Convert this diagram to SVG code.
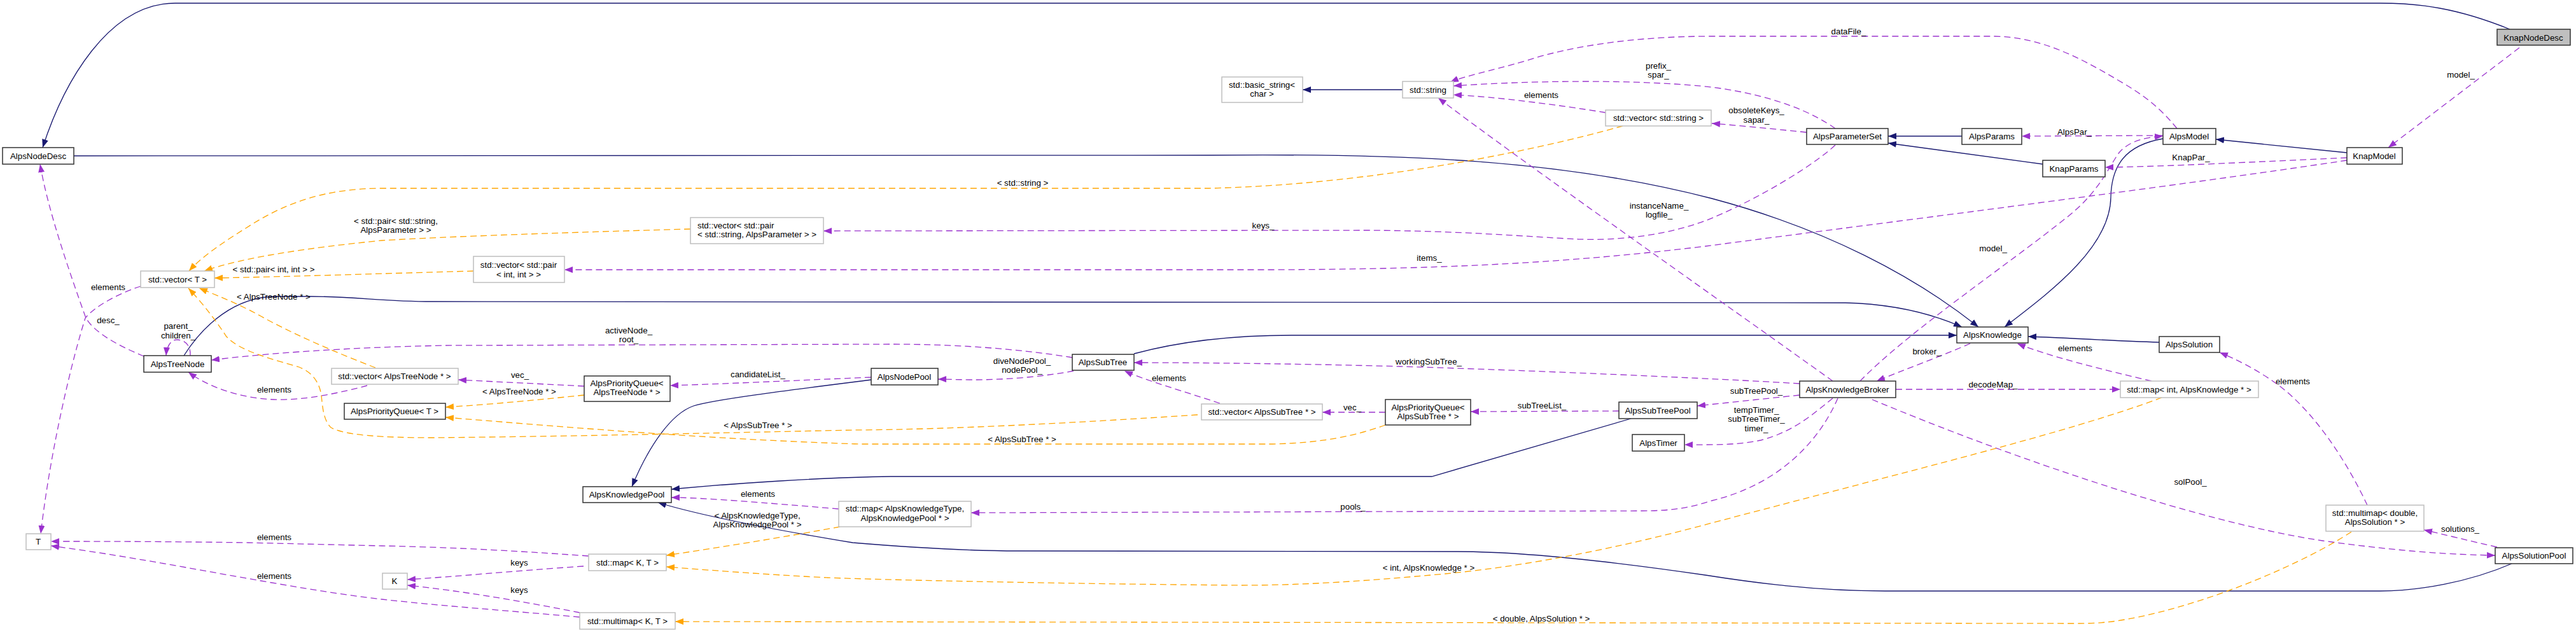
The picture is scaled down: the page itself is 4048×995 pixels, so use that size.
<svg xmlns="http://www.w3.org/2000/svg" width="4048" height="995" viewBox="0 0 4048 995">
<style>
text{font-family:"Liberation Sans",Arial,Helvetica,sans-serif;font-size:13.33px;fill:#000}
.c{text-anchor:middle}
.nb{fill:#fff;stroke:#333;stroke-width:1.5}
.ng{fill:#fff;stroke:#bfbfbf;stroke-width:1.5}
.nf{fill:#bfbfbf;stroke:#333;stroke-width:1.5}
.nv{fill:none;stroke:#191970;stroke-width:1.3}
.pu{fill:none;stroke:#9a32cd;stroke-width:1.3;stroke-dasharray:10,6}
.or{fill:none;stroke:#ffa500;stroke-width:1.3;stroke-dasharray:10,6}
</style>
<defs>
<marker id="aN" markerWidth="13" markerHeight="10" refX="13" refY="5" orient="auto" markerUnits="userSpaceOnUse"><path d="M0,0 L13,5 L0,10 z" fill="#191970"/></marker>
<marker id="aP" markerWidth="13" markerHeight="10" refX="13" refY="5" orient="auto" markerUnits="userSpaceOnUse"><path d="M0,0 L13,5 L0,10 z" fill="#9a32cd"/></marker>
<marker id="aO" markerWidth="13" markerHeight="10" refX="13" refY="5" orient="auto" markerUnits="userSpaceOnUse"><path d="M0,0 L13,5 L0,10 z" fill="#ffa500"/></marker>
</defs>
<rect width="4048" height="995" fill="#fff"/>
<g id="connectors">
<!-- inheritance -->
<path class="nv" marker-end="url(#aN)" d="M3944,46 C3860,12 3800,5 3740,5 L275,5 C170,5 100,130 67,232"/>
<path class="nv" marker-end="url(#aN)" d="M116,245 L1900,244 C2200,241 2450,250 2690,312 C2870,360 3010,435 3109,514"/>
<path class="nv" marker-end="url(#aN)" d="M289,559 C320,510 370,466 434,466 L490,466 C560,466 600,474 680,474 L2900,476 C2980,478 3040,495 3083,514"/>
<path class="nv" marker-end="url(#aN)" d="M1782,556 C1860,535 1940,527 2030,527 L3075,527"/>
<path class="nv" marker-end="url(#aN)" d="M3399,218 C3340,228 3318,260 3317,310 C3316,390 3220,460 3150,514"/>
<path class="nv" marker-end="url(#aN)" d="M3393,538 C3300,535 3230,530 3187,529"/>
<path class="nv" marker-end="url(#aN)" d="M3083,214 L2967,214"/>
<path class="nv" marker-end="url(#aN)" d="M3210,258 L2967,225"/>
<path class="nv" marker-end="url(#aN)" d="M3688,240 L3482,219"/>
<path class="nv" marker-end="url(#aN)" d="M2204,141 L2047,141"/>
<path class="nv" marker-end="url(#aN)" d="M1369,597 C1250,612 1120,628 1090,638 C1055,650 1020,700 993,765"/>
<path class="nv" marker-end="url(#aN)" d="M2563,658 L2250,749 L1400,749 C1300,750 1150,760 1055,769"/>
<path class="nv" marker-end="url(#aN)" d="M3947,886 C3880,915 3800,929 3740,929 L2962,929 C2850,929 2750,915 2680,904 C2550,885 2400,867 2290,867 L1600,866 C1500,866 1400,858 1340,853 C1200,830 1100,810 1034,790"/>
<!-- usage -->
<path class="pu" marker-end="url(#aP)" d="M3959,75 L3753,232"/>
<path class="pu" marker-end="url(#aP)" d="M3399,213 L3177,214"/>
<path class="pu" marker-end="url(#aP)" d="M3688,248 C3550,254 3400,262 3308,263"/>
<path class="pu" marker-end="url(#aP)" d="M3421,202 C3395,170 3370,150 3330,127 C3260,85 3200,57 3130,57 L2690,57 C2560,57 2460,75 2400,95 C2340,112 2300,120 2279,129"/>
<path class="pu" marker-end="url(#aP)" d="M2884,202 C2850,178 2790,150 2690,137 C2600,127 2450,124 2284,135"/>
<path class="pu" marker-end="url(#aP)" d="M2523,177 C2450,165 2350,152 2284,149"/>
<path class="pu" marker-end="url(#aP)" d="M2839,208 C2780,202 2730,197 2690,194"/>
<path class="pu" marker-end="url(#aP)" d="M2880,599 C2700,470 2400,260 2260,154"/>
<path class="pu" marker-end="url(#aP)" d="M2884,228 C2850,260 2760,315 2680,347 C2610,372 2540,378 2480,376 C2400,372 2300,363 2150,362 L1294,363"/>
<path class="pu" marker-end="url(#aP)" d="M3688,252 C3400,295 3000,345 2680,387 C2450,415 2250,423 2000,424 L887,424"/>
<path class="pu" marker-end="url(#aP)" d="M226,560 C190,545 150,525 135,500 C110,430 75,330 63,258"/>
<path class="pu" marker-end="url(#aP)" d="M221,450 C190,460 150,480 134,500 C115,560 80,700 64,839"/>
<path class="pu" marker-end="url(#aP)" d="M299,559 C300,540 288,534 278,534 C268,534 262,545 261,559"/>
<path class="pu" marker-end="url(#aP)" d="M1685,562 C1600,548 1500,541 1400,541 L700,543 C550,546 420,555 332,566"/>
<path class="pu" marker-end="url(#aP)" d="M577,606 C540,616 480,630 430,628 C380,626 330,610 296,585"/>
<path class="pu" marker-end="url(#aP)" d="M918,607 L720,597"/>
<path class="pu" marker-end="url(#aP)" d="M1369,593 C1250,598 1150,603 1053,606"/>
<path class="pu" marker-end="url(#aP)" d="M1687,583 C1640,592 1580,597 1530,597 C1510,597 1490,596 1474,596"/>
<path class="pu" marker-end="url(#aP)" d="M1917,634 C1860,615 1800,598 1767,583"/>
<path class="pu" marker-end="url(#aP)" d="M2177,648 L2078,648"/>
<path class="pu" marker-end="url(#aP)" d="M2544,646 L2311,647"/>
<path class="pu" marker-end="url(#aP)" d="M2828,603 C2700,595 2400,582 2200,576 C2050,572 1900,570 1782,570"/>
<path class="pu" marker-end="url(#aP)" d="M2828,621 L2667,638"/>
<path class="pu" marker-end="url(#aP)" d="M2880,626 C2850,650 2820,678 2767,692 C2730,700 2690,699 2647,699"/>
<path class="pu" marker-end="url(#aP)" d="M3096,540 C3050,560 2990,582 2949,599"/>
<path class="pu" marker-end="url(#aP)" d="M2979,612 L3332,612"/>
<path class="pu" marker-end="url(#aP)" d="M3381,599 C3300,580 3220,560 3170,540"/>
<path class="pu" marker-end="url(#aP)" d="M2923,599 C3000,520 3150,420 3250,340 C3300,300 3315,260 3330,240 C3345,222 3370,216 3399,214"/>
<path class="pu" marker-end="url(#aP)" d="M2942,628 C3150,715 3450,820 3650,850 C3780,868 3860,872 3921,873"/>
<path class="pu" marker-end="url(#aP)" d="M3924,860 C3880,850 3840,840 3809,833"/>
<path class="pu" marker-end="url(#aP)" d="M3720,794 C3690,730 3640,650 3580,605 C3550,583 3515,565 3488,554"/>
<path class="pu" marker-end="url(#aP)" d="M2888,626 C2860,690 2800,760 2690,787 C2650,800 2620,803 2580,803 L1526,806"/>
<path class="pu" marker-end="url(#aP)" d="M1318,800 C1200,790 1100,782 1055,782"/>
<path class="pu" marker-end="url(#aP)" d="M925,874 C800,865 700,860 600,858 L390,853 C250,851 150,851 80,851"/>
<path class="pu" marker-end="url(#aP)" d="M917,890 C800,898 720,906 640,911"/>
<path class="pu" marker-end="url(#aP)" d="M911,963 C820,945 720,928 640,920"/>
<path class="pu" marker-end="url(#aP)" d="M911,970 C800,960 700,953 600,942 C450,925 250,880 80,858"/>
<!-- template instances -->
<path class="or" marker-end="url(#aO)" d="M2550,198 C2400,240 2150,290 1900,296 L600,296 C510,296 450,320 400,350 C360,375 320,400 297,426"/>
<path class="or" marker-end="url(#aO)" d="M1085,360 C900,365 700,372 600,378 C480,390 380,405 321,426"/>
<path class="or" marker-end="url(#aO)" d="M744,426 C600,430 450,435 337,437"/>
<path class="or" marker-end="url(#aO)" d="M590,578 C530,555 460,525 410,497 C370,475 335,462 313,453"/>
<path class="or" marker-end="url(#aO)" d="M1882,652 C1700,664 1500,675 1340,676 C1150,680 900,686 680,688 C600,688 540,684 520,672 C508,660 507,640 505,622 C502,600 490,585 470,577 C430,565 375,552 355,528 C345,512 320,478 296,453"/>
<path class="or" marker-end="url(#aO)" d="M2177,668 C2130,685 2080,696 2000,698 L1350,698 C1100,690 850,668 700,656"/>
<path class="or" marker-end="url(#aO)" d="M918,621 C850,628 780,635 700,640"/>
<path class="or" marker-end="url(#aO)" d="M1320,828 C1200,850 1100,865 1047,873"/>
<path class="or" marker-end="url(#aO)" d="M3397,625 C3250,680 3000,740 2690,822 C2550,860 2400,890 2270,902 C2150,913 2050,920 1950,920 C1700,918 1400,912 1300,908 C1200,903 1100,895 1047,891"/>
<path class="or" marker-end="url(#aO)" d="M3695,836 C3620,885 3480,945 3360,970 C3320,978 3300,980 3260,980 L1061,977"/>
<!-- labels -->
<g class="c">
<text x="3867" y="122" class="c">model_</text>
<text x="3260" y="212" class="c">AlpsPar_</text>
<text x="3443" y="252" class="c">KnapPar_</text>
<text x="2905" y="54" class="c">dataFile_</text>
<text x="2606" y="108" class="c">prefix_</text>
<text x="2606" y="122" class="c">spar_</text>
<text x="2422" y="154" class="c">elements</text>
<text x="2760" y="178" class="c">obsoleteKeys_</text>
<text x="2760" y="193" class="c">sapar_</text>
<text x="2607" y="328" class="c">instanceName_</text>
<text x="2607" y="342" class="c">logfile_</text>
<text x="1985" y="359" class="c">keys_</text>
<text x="2246" y="410" class="c">items_</text>
<text x="3132" y="395" class="c">model_</text>
<text x="1607" y="292" class="c">&lt; std::string &gt;</text>
<text x="622" y="352" class="c">&lt; std::pair&lt; std::string,</text>
<text x="622" y="366" class="c">AlpsParameter &gt; &gt;</text>
<text x="430" y="428" class="c">&lt; std::pair&lt; int, int &gt; &gt;</text>
<text x="170" y="456" class="c">elements</text>
<text x="430" y="471" class="c">&lt; AlpsTreeNode * &gt;</text>
<text x="170" y="508" class="c">desc_</text>
<text x="280" y="517" class="c">parent_</text>
<text x="280" y="532" class="c">children_</text>
<text x="988" y="524" class="c">activeNode_</text>
<text x="988" y="538" class="c">root_</text>
<text x="431" y="617" class="c">elements</text>
<text x="817" y="594" class="c">vec_</text>
<text x="816" y="620" class="c">&lt; AlpsTreeNode * &gt;</text>
<text x="1191" y="593" class="c">candidateList_</text>
<text x="1191" y="673" class="c">&lt; AlpsSubTree * &gt;</text>
<text x="1606" y="572" class="c">diveNodePool_</text>
<text x="1606" y="586" class="c">nodePool_</text>
<text x="1837" y="599" class="c">elements</text>
<text x="1606" y="695" class="c">&lt; AlpsSubTree * &gt;</text>
<text x="2245" y="573" class="c">workingSubTree_</text>
<text x="2125" y="645" class="c">vec_</text>
<text x="2423" y="642" class="c">subTreeList_</text>
<text x="2126" y="801" class="c">pools_</text>
<text x="2245" y="897" class="c">&lt; int, AlpsKnowledge * &gt;</text>
<text x="2422" y="977" class="c">&lt; double, AlpsSolution * &gt;</text>
<text x="3028" y="557" class="c">broker_</text>
<text x="3261" y="552" class="c">elements</text>
<text x="2760" y="619" class="c">subTreePool_</text>
<text x="2760" y="649" class="c">tempTimer_</text>
<text x="2760" y="663" class="c">subTreeTimer_</text>
<text x="2760" y="678" class="c">timer_</text>
<text x="3132" y="609" class="c">decodeMap_</text>
<text x="3603" y="604" class="c">elements</text>
<text x="3442" y="762" class="c">solPool_</text>
<text x="3866" y="836" class="c">solutions_</text>
<text x="1191" y="781" class="c">elements</text>
<text x="1190" y="815" class="c">&lt; AlpsKnowledgeType,</text>
<text x="1190" y="829" class="c">AlpsKnowledgePool * &gt;</text>
<text x="431" y="849" class="c">elements</text>
<text x="816" y="889" class="c">keys</text>
<text x="431" y="910" class="c">elements</text>
<text x="816" y="932" class="c">keys</text>
</g>
</g>
<g id="KnapNodeDesc"><rect class="nf" x="3924" y="46" width="115" height="25"/><text class="c" x="3981" y="63.5">KnapNodeDesc</text></g>
<g id="AlpsNodeDesc"><rect class="nb" x="4" y="232" width="112" height="26"/><text class="c" x="60" y="249.5">AlpsNodeDesc</text></g>
<g id="basic_string"><rect class="ng" x="1920" y="121" width="127" height="40"/><text class="c" x="1983" y="138">std::basic_string&lt;</text><text class="c" x="1983" y="152">char &gt;</text></g>
<g id="std_string"><rect class="ng" x="2204" y="128" width="80" height="26"/><text class="c" x="2244" y="145.5">std::string</text></g>
<g id="vector_string"><rect class="ng" x="2523" y="173" width="166" height="25"/><text class="c" x="2606" y="190">std::vector&lt; std::string &gt;</text></g>
<g id="AlpsParameterSet"><rect class="nb" x="2839" y="202" width="128" height="25"/><text class="c" x="2903" y="219">AlpsParameterSet</text></g>
<g id="AlpsParams"><rect class="nb" x="3083" y="202" width="94" height="25"/><text class="c" x="3130" y="219">AlpsParams</text></g>
<g id="AlpsModel"><rect class="nb" x="3399" y="202" width="83" height="25"/><text class="c" x="3440" y="219">AlpsModel</text></g>
<g id="KnapParams"><rect class="nb" x="3210" y="252" width="98" height="26"/><text class="c" x="3259" y="269.5">KnapParams</text></g>
<g id="KnapModel"><rect class="nb" x="3688" y="232" width="87" height="26"/><text class="c" x="3731" y="249.5">KnapModel</text></g>
<g id="vector_pair_string"><rect class="ng" x="1085" y="342" width="209" height="41"/><text x="1096" y="358.5">std::vector&lt; std::pair</text><text x="1096" y="372.5">&lt; std::string, AlpsParameter &gt; &gt;</text></g>
<g id="vector_pair_int"><rect class="ng" x="744" y="403" width="143" height="41"/><text class="c" x="815" y="420.5">std::vector&lt; std::pair</text><text class="c" x="815" y="435.5">&lt; int, int &gt; &gt;</text></g>
<g id="vector_T"><rect class="ng" x="221" y="426" width="116" height="26"/><text class="c" x="279" y="443.5">std::vector&lt; T &gt;</text></g>
<g id="AlpsTreeNode"><rect class="nb" x="226" y="559" width="106" height="26"/><text class="c" x="279" y="576.5">AlpsTreeNode</text></g>
<g id="vector_AlpsTreeNode"><rect class="ng" x="521" y="579" width="199" height="25"/><text class="c" x="620" y="596">std::vector&lt; AlpsTreeNode * &gt;</text></g>
<g id="AlpsPriorityQueue_T"><rect class="nb" x="541" y="634" width="159" height="25"/><text class="c" x="620" y="651">AlpsPriorityQueue&lt; T &gt;</text></g>
<g id="PQ_AlpsTreeNode"><rect class="nb" x="918" y="591" width="135" height="40"/><text class="c" x="985" y="606.5">AlpsPriorityQueue&lt;</text><text class="c" x="985" y="620.5">AlpsTreeNode * &gt;</text></g>
<g id="AlpsNodePool"><rect class="nb" x="1369" y="579" width="105" height="26"/><text class="c" x="1421" y="596.5">AlpsNodePool</text></g>
<g id="AlpsSubTree"><rect class="nb" x="1685" y="557" width="97" height="25"/><text class="c" x="1733" y="574">AlpsSubTree</text></g>
<g id="vector_AlpsSubTree"><rect class="ng" x="1888" y="635" width="190" height="25"/><text class="c" x="1983" y="652">std::vector&lt; AlpsSubTree * &gt;</text></g>
<g id="PQ_AlpsSubTree"><rect class="nb" x="2177" y="628" width="134" height="40"/><text class="c" x="2244" y="644.5">AlpsPriorityQueue&lt;</text><text class="c" x="2244" y="658.5">AlpsSubTree * &gt;</text></g>
<g id="AlpsSubTreePool"><rect class="nb" x="2544" y="632" width="123" height="26"/><text class="c" x="2605" y="649.5">AlpsSubTreePool</text></g>
<g id="AlpsTimer"><rect class="nb" x="2565" y="683" width="82" height="26"/><text class="c" x="2606" y="700.5">AlpsTimer</text></g>
<g id="AlpsKnowledge"><rect class="nb" x="3075" y="514" width="112" height="25"/><text class="c" x="3131" y="531">AlpsKnowledge</text></g>
<g id="AlpsKnowledgeBroker"><rect class="nb" x="2828" y="599" width="151" height="26"/><text class="c" x="2903" y="616.5">AlpsKnowledgeBroker</text></g>
<g id="map_int_AlpsKnowledge"><rect class="ng" x="3332" y="599" width="217" height="26"/><text class="c" x="3440" y="616.5">std::map&lt; int, AlpsKnowledge * &gt;</text></g>
<g id="AlpsSolution"><rect class="nb" x="3393" y="529" width="95" height="25"/><text class="c" x="3440" y="546">AlpsSolution</text></g>
<g id="AlpsKnowledgePool"><rect class="nb" x="916" y="765" width="139" height="25"/><text class="c" x="985" y="782">AlpsKnowledgePool</text></g>
<g id="map_AlpsKnowledgeType"><rect class="ng" x="1318" y="788" width="208" height="40"/><text class="c" x="1422" y="803.5">std::map&lt; AlpsKnowledgeType,</text><text class="c" x="1422" y="818.5">AlpsKnowledgePool * &gt;</text></g>
<g id="T"><rect class="ng" x="41" y="839" width="39" height="25"/><text class="c" x="60" y="856">T</text></g>
<g id="K"><rect class="ng" x="601" y="901" width="39" height="25"/><text class="c" x="620" y="918">K</text></g>
<g id="map_K_T"><rect class="ng" x="925" y="871" width="122" height="26"/><text class="c" x="986" y="888.5">std::map&lt; K, T &gt;</text></g>
<g id="multimap_K_T"><rect class="ng" x="911" y="963" width="150" height="26"/><text class="c" x="986" y="980.5">std::multimap&lt; K, T &gt;</text></g>
<g id="multimap_double"><rect class="ng" x="3655" y="794" width="154" height="41"/><text class="c" x="3732" y="810.5">std::multimap&lt; double,</text><text class="c" x="3732" y="824.5">AlpsSolution * &gt;</text></g>
<g id="AlpsSolutionPool"><rect class="nb" x="3921" y="861" width="122" height="25"/><text class="c" x="3982" y="878">AlpsSolutionPool</text></g>
</svg>
